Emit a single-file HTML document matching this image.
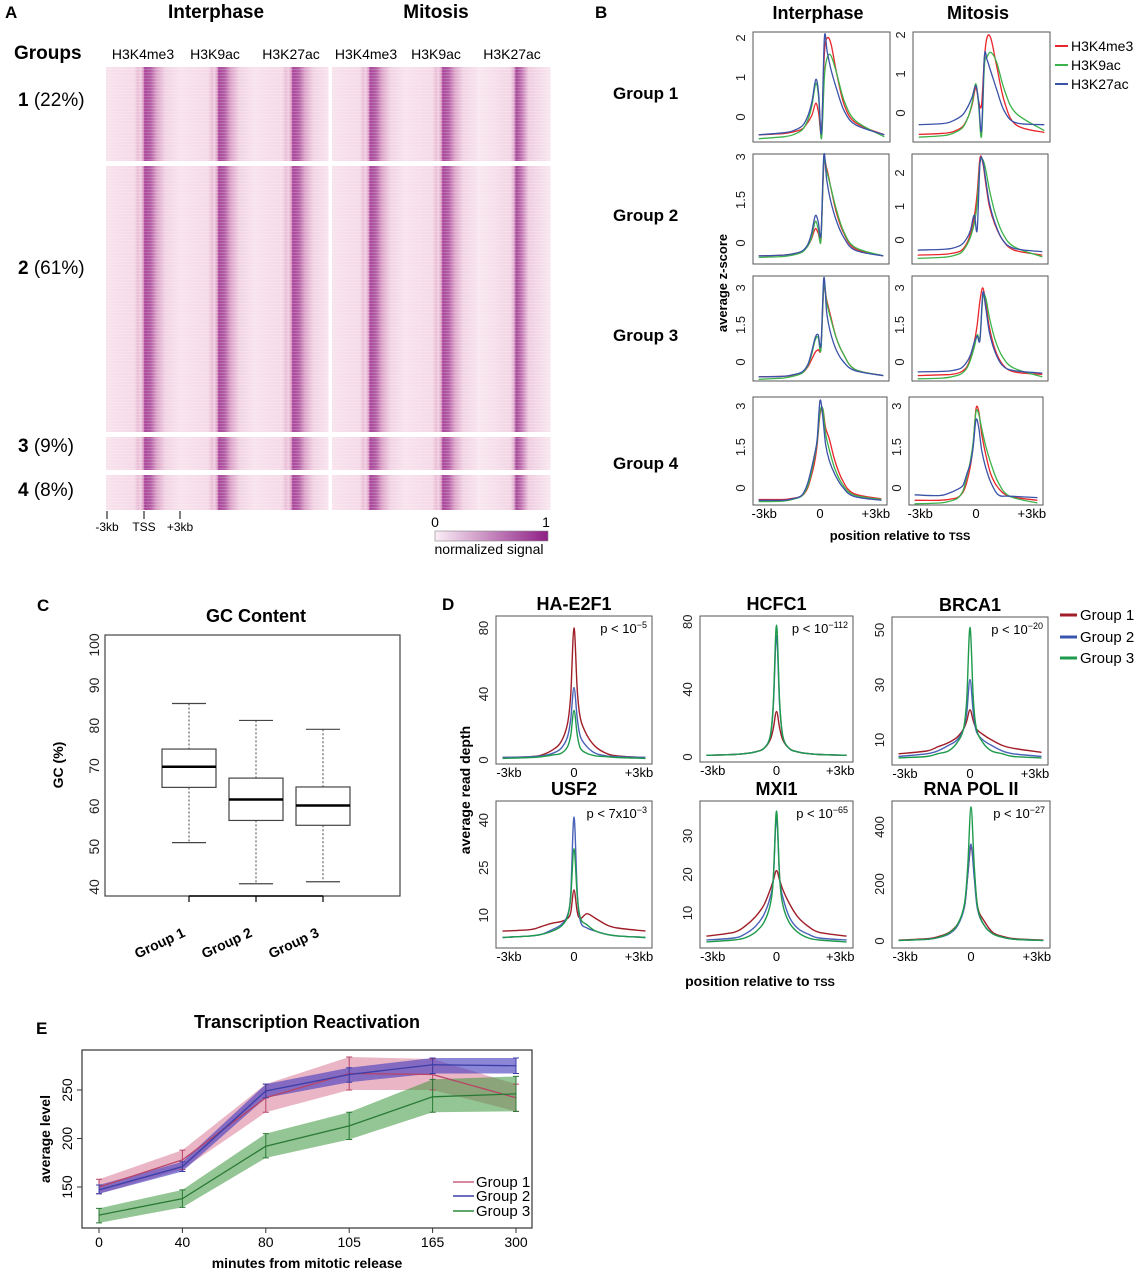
<!DOCTYPE html>
<html><head><meta charset="utf-8">
<style>
html,body{margin:0;padding:0;background:#fff;}
svg{display:block;font-family:"Liberation Sans",Arial,sans-serif;}
.b{font-weight:bold;}
</style></head>
<body>
<svg id="fig" width="1138" height="1280" viewBox="0 0 1138 1280" xmlns="http://www.w3.org/2000/svg">
<defs>
  <linearGradient id="trk" x1="0" x2="1" y1="0" y2="0">
    <stop offset="0" stop-color="#f8e3ed"/>
    <stop offset="0.38" stop-color="#f5d9e7"/>
    <stop offset="0.43" stop-color="#e9bcd5"/>
    <stop offset="0.46" stop-color="#f1d0e2"/>
    <stop offset="0.5" stop-color="#dea0c8"/>
    <stop offset="0.52" stop-color="#a8469a"/>
    <stop offset="0.6" stop-color="#b45ea6"/>
    <stop offset="0.68" stop-color="#dba2c8"/>
    <stop offset="0.8" stop-color="#f2d4e4"/>
    <stop offset="1" stop-color="#f8e3ed"/>
  </linearGradient>
  <linearGradient id="trk2" x1="0" x2="1" y1="0" y2="0">
    <stop offset="0" stop-color="#f9e8f0"/>
    <stop offset="0.45" stop-color="#f3d6e5"/>
    <stop offset="0.5" stop-color="#e2aed0"/>
    <stop offset="0.53" stop-color="#a44898"/>
    <stop offset="0.6" stop-color="#c274b2"/>
    <stop offset="0.7" stop-color="#efcde0"/>
    <stop offset="1" stop-color="#f9e8f0"/>
  </linearGradient>
  <pattern id="tex" width="6" height="3" patternUnits="userSpaceOnUse">
    <rect width="6" height="1" fill="#ffffff" opacity="0.18"/>
  </pattern>
  <linearGradient id="cbar" x1="0" x2="1"><stop offset="0" stop-color="#fbeef5"/><stop offset="1" stop-color="#8e1f86"/></linearGradient>
</defs>

<!-- Panel A labels -->
<text x="5" y="18" class="b" font-size="17">A</text>
<text x="216" y="18" class="b" font-size="19" text-anchor="middle">Interphase</text>
<text x="436" y="18" class="b" font-size="19" text-anchor="middle">Mitosis</text>
<text x="14" y="59" class="b" font-size="19">Groups</text>
<g font-size="14" text-anchor="middle">
<text x="143" y="59">H3K4me3</text><text x="215" y="59">H3K9ac</text><text x="291" y="59">H3K27ac</text>
<text x="366" y="59">H3K4me3</text><text x="436" y="59">H3K9ac</text><text x="512" y="59">H3K27ac</text>
</g>
<g font-size="19">
<text x="18" y="106"><tspan class="b">1</tspan> (22%)</text>
<text x="18" y="274"><tspan class="b">2</tspan> (61%)</text>
<text x="18" y="452"><tspan class="b">3</tspan> (9%)</text>
<text x="18" y="496"><tspan class="b">4</tspan> (8%)</text>
</g>
<g id="heat"></g>
<g stroke="#000" stroke-width="1">
<line x1="107" y1="511" x2="107" y2="519"/><line x1="144" y1="511" x2="144" y2="519"/><line x1="180" y1="511" x2="180" y2="519"/>
</g>
<g font-size="12" text-anchor="middle">
<text x="107" y="531">-3kb</text><text x="144" y="531">TSS</text><text x="180" y="531">+3kb</text>
</g>
<rect x="435" y="531" width="113" height="10" fill="url(#cbar)" stroke="#888" stroke-width="0.6"/>
<text x="435" y="527" font-size="14" text-anchor="middle">0</text>
<text x="546" y="527" font-size="14" text-anchor="middle">1</text>
<text x="489" y="554" font-size="14" text-anchor="middle">normalized signal</text>

<!-- Panel B labels -->
<text x="595" y="18" class="b" font-size="17">B</text>
<text x="818" y="19" class="b" font-size="18" text-anchor="middle">Interphase</text>
<text x="978" y="19" class="b" font-size="18" text-anchor="middle">Mitosis</text>
<g class="b" font-size="17">
<text x="613" y="99">Group 1</text><text x="613" y="221">Group 2</text><text x="613" y="341">Group 3</text><text x="613" y="469">Group 4</text>
</g>
<text transform="translate(727,283) rotate(-90)" class="b" font-size="13" text-anchor="middle">average z-score</text>
<text x="900" y="540" class="b" font-size="13" text-anchor="middle">position relative to <tspan font-size="11">TSS</tspan></text>
<g font-size="14">
<line x1="1055" y1="46" x2="1068" y2="46" stroke="#e8262b" stroke-width="2"/><text x="1071" y="51">H3K4me3</text>
<line x1="1055" y1="65" x2="1068" y2="65" stroke="#3cb34a" stroke-width="2"/><text x="1071" y="70">H3K9ac</text>
<line x1="1055" y1="84" x2="1068" y2="84" stroke="#3a52a8" stroke-width="2"/><text x="1071" y="89">H3K27ac</text>
</g>
<g id="pb"></g>

<!-- Panel C -->
<text x="37" y="611" class="b" font-size="17">C</text>
<text x="256" y="622" class="b" font-size="18" text-anchor="middle">GC Content</text>
<text transform="translate(63,765) rotate(-90)" class="b" font-size="14" text-anchor="middle">GC (%)</text>
<g id="pc"></g>

<!-- Panel D -->
<text x="442" y="610" class="b" font-size="17">D</text>
<text transform="translate(470,790) rotate(-90)" class="b" font-size="14" text-anchor="middle">average read depth</text>
<text x="760" y="986" class="b" font-size="14" text-anchor="middle">position relative to <tspan font-size="11">TSS</tspan></text>
<g font-size="15">
<line x1="1060" y1="615" x2="1077" y2="615" stroke="#a01e28" stroke-width="3"/><text x="1080" y="620">Group 1</text>
<line x1="1060" y1="637" x2="1077" y2="637" stroke="#3a55b0" stroke-width="3"/><text x="1080" y="642">Group 2</text>
<line x1="1060" y1="658" x2="1077" y2="658" stroke="#1e9a4c" stroke-width="3"/><text x="1080" y="663">Group 3</text>
</g>
<g id="pd"></g>

<!-- Panel E -->
<text x="36" y="1034" class="b" font-size="17">E</text>
<text x="307" y="1028" class="b" font-size="18" text-anchor="middle">Transcription Reactivation</text>
<text transform="translate(50,1139) rotate(-90)" class="b" font-size="14" text-anchor="middle">average level</text>
<text x="307" y="1268" class="b" font-size="14" text-anchor="middle">minutes from mitotic release</text>
<g id="pe"></g>
</svg>

<script>
const NS = 'http://www.w3.org/2000/svg';
function mk(tag, attrs, parent) {
  const e = document.createElementNS(NS, tag);
  for (const k in attrs) e.setAttribute(k, attrs[k]);
  if (parent) parent.appendChild(e);
  return e;
}
function smoothPath(pts) {
  let d = 'M' + pts[0][0].toFixed(1) + ',' + pts[0][1].toFixed(1);
  for (let i = 0; i < pts.length - 1; i++) {
    const p0 = pts[i - 1] || pts[i], p1 = pts[i], p2 = pts[i + 1], p3 = pts[i + 2] || pts[i + 1];
    const c1x = p1[0] + (p2[0] - p0[0]) / 6, c1y = p1[1] + (p2[1] - p0[1]) / 6;
    const c2x = p2[0] - (p3[0] - p1[0]) / 6, c2y = p2[1] - (p3[1] - p1[1]) / 6;
    d += 'C' + c1x.toFixed(1) + ',' + c1y.toFixed(1) + ' ' + c2x.toFixed(1) + ',' + c2y.toFixed(1) + ' ' + p2[0].toFixed(1) + ',' + p2[1].toFixed(1);
  }
  return d;
}

/* ---------------- Panel A heatmap ---------------- */
const heatGroups = ['group-1', 'group-2', 'group-3', 'group-4'];
const heatTops = [67, 166, 437, 475];
const heatBottoms = [161, 432, 470, 510];
const heatCols = [106, 332];
(function () {
  const g = document.getElementById('heat');
  heatCols.forEach((cx, ci) => {
    heatGroups.forEach((gn, gi) => {
      for (let t = 0; t < 3; t++) {
        const w = ci === 0 ? 74 : 72.7;
        const r = mk('rect', { x: cx + t * w, y: heatTops[gi], width: w + 0.5, height: heatBottoms[gi] - heatTops[gi], fill: (ci === 1 && t === 2) ? 'url(#trk2)' : 'url(#trk)' }, g);
        
        
      }
      const tx = mk('rect', { x: cx, y: heatTops[gi], width: ci === 0 ? 222 : 218, height: heatBottoms[gi] - heatTops[gi], fill: 'url(#tex)' }, g);
      
      
    });
  });
})();

/* ---------------- Panel B profiles ---------------- */
const xB = [-3.3,-2,-1.5,-1,-0.7,-0.5,-0.3,-0.15,0,0.15,0.3,0.5,0.8,1.2,1.8,3.3];
const b1i_r = [-0.45,-0.42,-0.38,-0.3,-0.12,0.05,0.35,0.1,-0.35,1.6,2.0,1.85,1.1,0.3,-0.15,-0.45];
const b1i_g = [-0.55,-0.5,-0.45,-0.32,-0.05,0.3,0.85,0.5,-0.55,1.0,1.5,1.55,1.1,0.4,-0.1,-0.5];
const b1i_b = [-0.45,-0.4,-0.35,-0.22,0.05,0.4,0.95,0.6,-0.4,2.0,1.65,1.2,0.7,0.15,-0.2,-0.45];
const b1m_r = [-0.55,-0.52,-0.48,-0.35,-0.1,0.2,0.65,0.3,0.2,1.4,1.95,1.9,1.2,0.3,-0.3,-0.5];
const b1m_g = [-0.62,-0.58,-0.52,-0.38,-0.1,0.25,0.75,0.2,-0.6,1.2,1.45,1.55,1.3,0.6,0.0,-0.45];
const b1m_b = [-0.3,-0.27,-0.2,-0.05,0.18,0.4,0.7,0.3,-0.45,1.45,1.35,1.05,0.6,0.05,-0.25,-0.3];
const b2i_r = [-0.45,-0.42,-0.38,-0.3,-0.1,0.15,0.5,0.35,0.2,2.7,2.6,2.0,1.1,0.35,-0.2,-0.45];
const b2i_g = [-0.5,-0.47,-0.42,-0.32,-0.1,0.2,0.75,0.5,0.1,2.8,2.5,2.0,1.2,0.4,-0.15,-0.45];
const b2i_b = [-0.45,-0.42,-0.38,-0.28,-0.05,0.35,0.95,0.75,0.3,3.05,2.2,1.5,0.8,0.2,-0.25,-0.45];
const b2m_r = [-0.45,-0.43,-0.4,-0.32,-0.1,0.2,0.7,1.4,2.45,2.3,1.7,1.0,0.45,0.0,-0.3,-0.45];
const b2m_g = [-0.55,-0.52,-0.48,-0.38,-0.15,0.1,0.5,1.1,2.3,2.4,2.1,1.5,0.8,0.2,-0.2,-0.5];
const b2m_b = [-0.3,-0.28,-0.25,-0.15,0.05,0.3,0.75,0.3,2.3,2.35,1.8,1.1,0.5,0.0,-0.25,-0.35];
const b3i_r = [-0.6,-0.58,-0.55,-0.45,-0.2,0.1,0.4,0.5,0.6,3.0,2.5,1.9,1.0,0.3,-0.3,-0.55];
const b3i_g = [-0.7,-0.65,-0.58,-0.45,-0.15,0.3,0.9,1.0,0.5,3.1,2.4,1.8,1.0,0.3,-0.3,-0.55];
const b3i_b = [-0.6,-0.58,-0.52,-0.4,-0.1,0.4,1.0,1.1,0.7,3.4,2.0,1.2,0.5,0.0,-0.35,-0.55];
const b3m_r = [-0.55,-0.52,-0.5,-0.4,-0.2,0.2,0.8,1.5,2.5,3.0,2.4,1.4,0.5,-0.1,-0.4,-0.5];
const b3m_g = [-0.68,-0.65,-0.6,-0.48,-0.25,0.1,0.6,1.1,1.0,2.6,2.6,1.8,0.9,0.2,-0.25,-0.6];
const b3m_b = [-0.4,-0.38,-0.35,-0.25,0.0,0.3,0.8,1.05,0.9,2.8,2.2,1.2,0.4,-0.15,-0.35,-0.45];
const b4i_r = [-0.42,-0.42,-0.38,-0.3,-0.05,0.35,0.9,1.6,2.7,2.9,2.2,1.8,1.0,0.3,-0.2,-0.4];
const b4i_g = [-0.5,-0.48,-0.42,-0.3,0.0,0.45,1.1,1.7,2.8,2.9,2.0,1.4,0.7,0.15,-0.25,-0.42];
const b4i_b = [-0.45,-0.45,-0.4,-0.28,0.1,0.6,1.2,1.8,3.2,2.6,1.6,1.0,0.5,0.05,-0.3,-0.45];
const b4m_r = [-0.45,-0.45,-0.42,-0.35,-0.15,0.2,0.8,1.6,2.9,2.8,2.0,1.3,0.5,0.0,-0.3,-0.45];
const b4m_g = [-0.58,-0.55,-0.5,-0.38,-0.1,0.4,1.0,1.7,2.8,2.7,2.2,1.6,0.9,0.2,-0.3,-0.55];
const b4m_b = [-0.25,-0.28,-0.2,-0.05,0.1,0.5,0.9,1.5,2.5,2.2,1.4,0.8,0.2,-0.25,-0.3,-0.35];
const bTicks1 = ['0','1','2'];
const bTicks1v = [0,1,2];
const bTicks3 = ['0','1.5','3'];
const bTicks3v = [0,1.5,3];
const bTicksM2 = ['0','1','2'];

const bPlots = [
  {n:'b-group1-interphase', box:[753,32,890,142], y0:117, k:39.5, tv:bTicks1v, tl:bTicks1, s:[b1i_r,b1i_g,b1i_b]},
  {n:'b-group1-mitosis', box:[913,32,1050,142], y0:113, k:39, tv:bTicks1v, tl:bTicks1, s:[b1m_r,b1m_g,b1m_b]},
  {n:'b-group2-interphase', box:[753,154,889,264], y0:243, k:28.7, tv:bTicks3v, tl:bTicks3, s:[b2i_r,b2i_g,b2i_b]},
  {n:'b-group2-mitosis', box:[912,154,1048,264], y0:240, k:33.5, tv:bTicks1v, tl:bTicksM2, s:[b2m_r,b2m_g,b2m_b]},
  {n:'b-group3-interphase', box:[753,276,889,381], y0:362, k:24.7, tv:bTicks3v, tl:bTicks3, s:[b3i_r,b3i_g,b3i_b]},
  {n:'b-group3-mitosis', box:[912,276,1048,381], y0:362, k:24.7, tv:bTicks3v, tl:bTicks3, s:[b3m_r,b3m_g,b3m_b]},
  {n:'b-group4-interphase', box:[753,397,887,505], y0:488, k:27.3, tv:bTicks3v, tl:bTicks3, s:[b4i_r,b4i_g,b4i_b]},
  {n:'b-group4-mitosis', box:[909,397,1043,505], y0:488, k:27.3, tv:bTicks3v, tl:bTicks3, s:[b4m_r,b4m_g,b4m_b]}
];
const bColors = ['#e8262b','#3cb34a','#3a52a8'];
const bSeriesNames = ['h3k4me3','h3k9ac','h3k27ac'];

function drawProfiles(parent, p, xs, xmin, xmax, colors, names, sw) {
  const [l, t, r, b] = p.box;
  const g = mk('g', {}, parent);
  
  
  const fr = mk('rect', {x:l, y:t, width:r-l, height:b-t, fill:'none', stroke:'#555', 'stroke-width':1}, g);
  
  
  const xf = v => l + (v - xmin) / (xmax - xmin) * (r - l);
  const yf = v => p.y0 - v * p.k;
  p.tv.forEach((v, i) => {
    const y = yf(v);
    const tk = mk('text', {transform:`translate(${l-8},${y}) rotate(-90)`, 'font-size':13, 'text-anchor':'middle', fill:'#222'}, g);
    tk.textContent = p.tl[i];
    
    
  });
  p.s.forEach((arr, si) => {
    const pts = arr.map((v, i) => [xf(xs[i]), yf(v)]);
    const pa = mk('path', {d:smoothPath(pts), fill:'none', stroke:colors[si], 'stroke-width':sw, 'stroke-linejoin':'round'}, g);
    
    
  });
  return {g, xf, yf};
}
(function () {
  const par = document.getElementById('pb');
  bPlots.forEach(p => drawProfiles(par, p, xB, -3.6, 3.6, bColors, bSeriesNames, 1.3));
  const xl = ['-3kb','0','+3kb'];
  const xv = [-3, 0, 3];
  [[753,887],[909,1043]].forEach(([l, r]) => {
    xv.forEach((v, i) => {
      const t = mk('text', {x: l + (v + 3.6) / 7.2 * (r - l), y: 518, 'font-size':13, 'text-anchor':'middle'}, par);
      t.textContent = xl[i];
      
      
    });
  });
})();

/* ---------------- Panel C boxplot ---------------- */
const cGroups = ['Group 1','Group 2','Group 3'];
const cMedian = [69.8, 61.7, 60.2];
const cQ1 = [64.7, 56.5, 55.3];
const cQ3 = [74.2, 67.0, 64.8];
const cLo = [51.0, 40.8, 41.3];
const cHi = [85.5, 81.3, 79.1];
const cTicks = [40, 50, 60, 70, 80, 90, 100];
(function () {
  const g = document.getElementById('pc');
  const L = 105, R = 400, T = 635, B = 896;
  const yf = v => 887 - (v - 40) * (887 - 645) / 60;
  const xf = i => 189 + i * 67;
  const fr = mk('rect', {x:L, y:T, width:R-L, height:B-T, fill:'none', stroke:'#444', 'stroke-width':1.2}, g);
  
  
  cTicks.forEach(v => {
    const t = mk('text', {transform:`translate(${99},${yf(v)}) rotate(-90)`, 'font-size':14, 'text-anchor':'middle', fill:'#222'}, g);
    t.textContent = v;
    
    
  });
  const ax = mk('line', {x1:xf(0), x2:xf(2), y1:B, y2:B, stroke:'#000', 'stroke-width':1.5}, g);
  
  
  cGroups.forEach((name, i) => {
    const x = xf(i);
    const tk = mk('line', {x1:x, x2:x, y1:B, y2:B+6, stroke:'#000', 'stroke-width':1.2}, g);
    
    
    const lab = mk('text', {transform:`translate(${x-3},${B+40}) rotate(-25)`, 'font-size':14, 'font-weight':'bold', 'text-anchor':'end'}, g);
    lab.textContent = name;
    
    
    const wh = mk('line', {x1:x, x2:x, y1:yf(cHi[i]), y2:yf(cLo[i]), stroke:'#444', 'stroke-dasharray':'2,2', 'stroke-width':1}, g);
    
    
    [cHi[i], cLo[i]].forEach(v => {
      const cap = mk('line', {x1:x-17, x2:x+17, y1:yf(v), y2:yf(v), stroke:'#444', 'stroke-width':1.2}, g);
      
      
    });
    const bx = mk('rect', {x:x-27, y:yf(cQ3[i]), width:54, height:yf(cQ1[i]) - yf(cQ3[i]), fill:'#fff', stroke:'#444', 'stroke-width':1.2}, g);
    
    
    const md = mk('line', {x1:x-27, x2:x+27, y1:yf(cMedian[i]), y2:yf(cMedian[i]), stroke:'#000', 'stroke-width':2.5}, g);
    
    
  });
})();

/* ---------------- Panel D profiles ---------------- */
const xD = [-3.3,-2,-1.5,-1,-0.6,-0.3,-0.15,0,0.15,0.3,0.6,1,1.5,2,3.3];
const e2f1_g1 = [1.5,2,3,6,11,22,40,80,42,25,15,8,4,2.5,1.5];
const e2f1_g2 = [1.5,2,2.5,4,7,14,25,44,25,14,8,4,2.5,2,1.5];
const e2f1_g3 = [1,1.5,2,3,4,8,15,30,15,7,4,2.5,2,1.5,1];
const hcfc1_g1 = [1,1.5,2,3,5,10,17,27,17,10,5,3,2,1.5,1];
const hcfc1_g2 = [1,1.5,2,3,5,12,30,72,30,12,5,3,2,1.5,1];
const hcfc1_g3 = [1,1.5,2,3,5,12,32,78,32,12,5,3,2,1.5,1];
const brca1_g1 = [5,6,7.5,9,11,14,17,21,17,14,12,10,8,7,5.5];
const brca1_g2 = [4,5,6,8,10,14,20,32,20,13,10,8,6,5,4];
const brca1_g3 = [3.5,4,5,6,9,14,25,51,25,14,9,6,5,4,3.5];
const usf2_g1 = [5,5.5,6.5,7.5,8,9,11,18,11,9,10.5,9,7,6,5];
const usf2_g2 = [3,3.5,4,5.5,7,10,17,41,17,8,6,5,4,3.5,3];
const usf2_g3 = [3,3.5,4,5,6.5,9.5,16,31,16,9,7,5,4,3.5,3];
const mxi1_g1 = [4,5,6.5,9,12,16,18.5,21,18.5,16,12.5,9,6.5,5,4];
const mxi1_g2 = [3,3.5,4.5,6.5,9.5,14,19,35,19,14,9,6,4.5,3.5,3];
const mxi1_g3 = [2.5,3,3.5,5,7.5,12,19,36.5,19,12,7.5,5,3.5,3,2.5];
const pol2_g1 = [3,8,15,30,60,120,230,330,240,120,70,30,15,8,3];
const pol2_g2 = [2,6,12,25,55,120,230,340,220,110,55,25,12,6,2];
const pol2_g3 = [2,6,12,28,60,130,260,470,260,120,55,25,12,6,2];
const dTitles = ['HA-E2F1','HCFC1','BRCA1','USF2','MXI1','RNA POL II'];
const dPBase = ['p < 10','p < 10','p < 10','p < 7x10','p < 10','p < 10'];
const dPExp = ['−5','−112','−20','−3','−65','−27'];
const dTickV = [[0,40,80],[0,40,80],[10,30,50],[10,25,40],[10,20,30],[0,200,400]];
const dPlots = [
  {n:'d-ha-e2f1', box:[496,616,652,764], y0:760, k:1.65, s:[e2f1_g1,e2f1_g2,e2f1_g3]},
  {n:'d-hcfc1', box:[700,616,853,762], y0:757, k:1.69, s:[hcfc1_g1,hcfc1_g2,hcfc1_g3]},
  {n:'d-brca1', box:[892,617,1048,765], y0:767.5, k:2.75, s:[brca1_g1,brca1_g2,brca1_g3]},
  {n:'d-usf2', box:[496,801,652,948], y0:947, k:3.17, s:[usf2_g1,usf2_g2,usf2_g3]},
  {n:'d-mxi1', box:[700,801,853,948], y0:951.5, k:3.85, s:[mxi1_g1,mxi1_g2,mxi1_g3]},
  {n:'d-rna-pol-ii', box:[892,801,1050,948], y0:941, k:0.285, s:[pol2_g1,pol2_g2,pol2_g3]}
];
const dColors = ['#a01e28','#4a62b8','#1e9a4c'];
const dSeriesNames = ['group-1','group-2','group-3'];
(function () {
  const par = document.getElementById('pd');
  dPlots.forEach((p, i) => {
    p.tv = dTickV[i];
    p.tl = dTickV[i].map(String);
    const {g} = drawProfiles(par, p, xD, -3.6, 3.6, dColors, dSeriesNames, 1.4);
    const [l, t, r, b] = p.box;
    const ti = mk('text', {x:(l + r) / 2, y:t - 6, 'font-size':18, 'font-weight':'bold', 'text-anchor':'middle'}, g);
    ti.textContent = dTitles[i];
    
    
    const pv = mk('text', {x:r - 5, y:t + 17, 'font-size':13, 'text-anchor':'end'}, g);
    pv.textContent = dPBase[i];
    const sup = mk('tspan', {dy:-5, 'font-size':9}, pv);
    sup.textContent = dPExp[i];
    
    
    const xl = ['-3kb','0','+3kb'];
    [-3, 0, 3].forEach((v, j) => {
      const tx = mk('text', {x:l + (v + 3.6) / 7.2 * (r - l), y:b + 13, 'font-size':13, 'text-anchor':'middle'}, g);
      tx.textContent = xl[j];
      
      
    });
  });
})();

/* ---------------- Panel E ---------------- */
const eTimes = ['0','40','80','105','165','300'];
const eG1 = [150, 178, 242, 267, 266, 242];
const eG1lo = [143, 168, 227, 250, 250, 228];
const eG1hi = [158, 188, 256, 284, 282, 256];
const eG2 = [147, 171, 249, 266, 276, 275];
const eG2lo = [143, 166, 242, 258, 267, 267];
const eG2hi = [152, 176, 256, 273, 283, 283];
const eG3 = [121, 138, 192, 213, 243, 246];
const eG3lo = [113, 129, 180, 199, 227, 228];
const eG3hi = [128, 147, 205, 227, 261, 264];
const eYTicks = [150, 200, 250];
(function () {
  const g = document.getElementById('pe');
  const L = 82, R = 532, T = 1050, B = 1228;
  const xf = i => 99 + i * (516 - 99) / 5;
  const yf = v => 1187 - (v - 150) * (1187 - 1090) / 100;
  const series = [
    {n:'group-1', m:eG1, lo:eG1lo, hi:eG1hi, band:'rgba(205,80,120,0.42)', line:'#b84466'},
    {n:'group-3', m:eG3, lo:eG3lo, hi:eG3hi, band:'rgba(60,150,60,0.55)', line:'#2a7a36'},
    {n:'group-2', m:eG2, lo:eG2lo, hi:eG2hi, band:'rgba(70,60,190,0.62)', line:'#3b3ea8'}
  ];
  series.forEach(s => {
    const up = s.hi.map((v, i) => xf(i) + ',' + yf(v));
    const dn = s.lo.map((v, i) => xf(i) + ',' + yf(v)).reverse();
    const band = mk('polygon', {points: up.concat(dn).join(' '), fill:s.band}, g);
    
    
  });
  series.forEach(s => {
    const ln = mk('polyline', {points: s.m.map((v, i) => xf(i) + ',' + yf(v)).join(' '), fill:'none', stroke:s.line, 'stroke-width':1.3}, g);
    
    
    s.m.forEach((v, i) => {
      const x = xf(i);
      const eb = mk('path', {d:`M${x},${yf(s.lo[i])}V${yf(s.hi[i])}M${x-3},${yf(s.lo[i])}h6M${x-3},${yf(s.hi[i])}h6`, stroke:s.line, 'stroke-width':1, fill:'none'}, g);
      
      
    });
  });
  const fr = mk('rect', {x:L, y:T, width:R-L, height:B-T, fill:'none', stroke:'#333', 'stroke-width':1.2}, g);
  
  
  eTimes.forEach((t, i) => {
    const tk = mk('line', {x1:xf(i), x2:xf(i), y1:B, y2:B+5, stroke:'#333'}, g);
    
    
    const lb = mk('text', {x:xf(i), y:B + 19, 'font-size':14, 'text-anchor':'middle'}, g);
    lb.textContent = t;
    
    
  });
  eYTicks.forEach(v => {
    const tk = mk('line', {x1:L-5, x2:L, y1:yf(v), y2:yf(v), stroke:'#333'}, g);
    
    
    const lb = mk('text', {transform:`translate(${L-10},${yf(v)}) rotate(-90)`, 'font-size':14, 'text-anchor':'middle'}, g);
    lb.textContent = v;
    
    
  });
  const leg = [['Group 1','#c8607e',1186],['Group 2','#3b3ea8',1200],['Group 3','#2a8a3a',1215]];
  leg.forEach(([t, c, y]) => {
    const ln = mk('line', {x1:453, x2:474, y1:y-4, y2:y-4, stroke:c, 'stroke-width':1.5}, g);
    
    
    const tx = mk('text', {x:476, y:y+1, 'font-size':15}, g);
    tx.textContent = t;
    
    
  });
})();
</script>
</body></html>
